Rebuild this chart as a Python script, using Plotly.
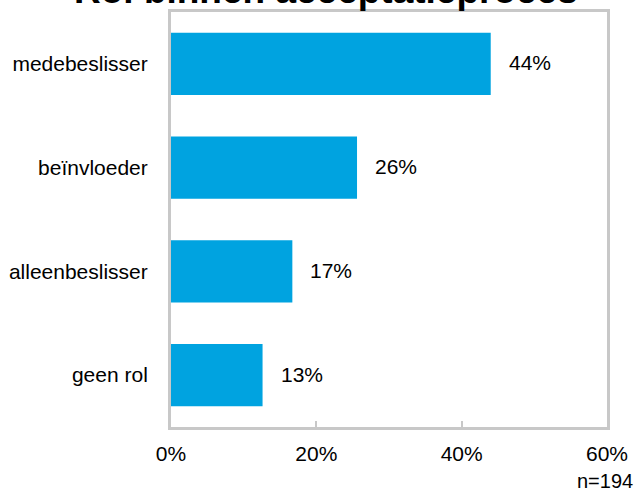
import plotly.graph_objects as go

categories = ["medebeslisser", "beïnvloeder", "alleenbeslisser", "geen rol"]
values = [44.0, 25.6, 16.7, 12.6]
value_labels = ["44%", "26%", "17%", "13%"]
tick_vals = [0, 20, 40, 60]
tick_text = ["0%", "20%", "40%", "60%"]
title_text = "Rol binnen acceptatieproces"
note_text = "n=194"

FONT = "Liberation Sans, Arial, sans-serif"

fig = go.Figure()
fig.add_trace(go.Bar(
    x=values, y=categories, orientation="h",
    marker=dict(color="#00A3E0", line=dict(width=0)),
    hoverinfo="skip",
))

for v, c, t in zip(values, categories, value_labels):
    fig.add_annotation(x=v, y=c, xref="x", yref="y", text=t, showarrow=False,
                       xanchor="left", xshift=16, yshift=1,
                       font=dict(size=21, color="black", family=FONT))

fig.add_annotation(x=0.3565, y=1, xref="paper", yref="paper", text="<b>" + title_text + "</b>",
                   showarrow=False, xanchor="center", yanchor="bottom", yshift=-1,
                   font=dict(size=37, color="black", family=FONT))
fig.add_annotation(x=1, y=0, xref="paper", yref="paper", text=note_text, showarrow=False,
                   xanchor="right", yanchor="middle", xshift=28, yshift=-54,
                   font=dict(size=20, color="black", family=FONT))

fig.update_layout(
    width=639, height=491,
    margin=dict(l=168, r=32, t=9, b=64),
    paper_bgcolor="white", plot_bgcolor="white",
    bargap=0.40,
    showlegend=False,
    font=dict(family=FONT, size=21, color="black"),
    xaxis=dict(range=[0, 60], tickvals=tick_vals, ticktext=tick_text,
               showgrid=False, zeroline=False, showline=True, mirror=True,
               linecolor="#C8C8C8", linewidth=3, ticks="inside", ticklen=6,
               tickcolor="#C8C8C8", tickwidth=2, ticklabelstandoff=6,
               tickfont=dict(size=21, color="black", family=FONT)),
    yaxis=dict(autorange="reversed", showgrid=False, zeroline=False, showline=True,
               mirror=True, linecolor="#C8C8C8", linewidth=3, ticks="",
               ticklabelstandoff=16, tickfont=dict(size=21, color="black", family=FONT)),
)

fig.write_html("out.html")
